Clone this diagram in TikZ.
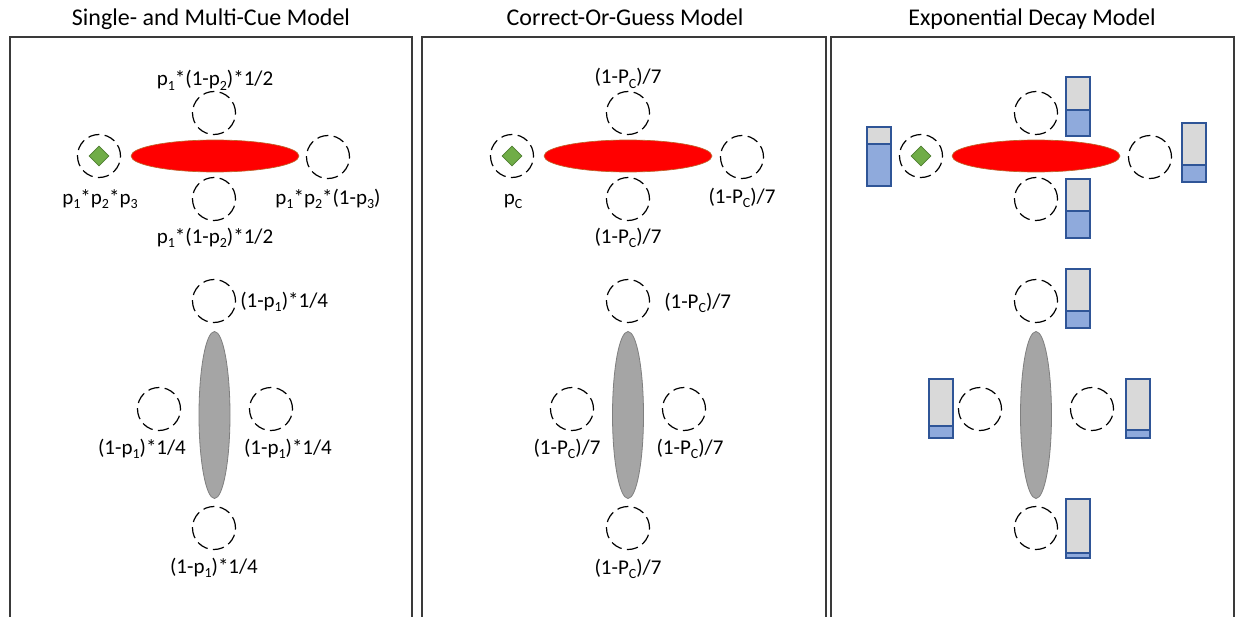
\documentclass[tikz,border=0pt]{standalone}
\usepackage{fontspec}
\setmainfont{Carlito}
\usetikzlibrary{shapes.geometric}
\definecolor{frame}{HTML}{3A3A3A}
\definecolor{ellgrey}{HTML}{A5A5A5}
\definecolor{ellgreyd}{HTML}{7F7F7F}
\definecolor{gemgreen}{HTML}{70AD47}
\definecolor{gemgreend}{HTML}{507E32}
\definecolor{redrim}{HTML}{C0622A}
\definecolor{bargrey}{HTML}{D9D9D9}
\definecolor{barblue}{HTML}{8FAADC}
\definecolor{barline}{HTML}{2F5597}
\newcommand{\sbs}[1]{\raisebox{-0.2em}{\fontsize{10.5}{12}\selectfont #1}}
\newcommand{\levelbar}[3]{%
  \fill[bargrey] (#1,#2) rectangle (#1+24,#3);
  \fill[barblue] (#1,#3) rectangle (#1+24,#2+59);
  \draw[barline, line width=1pt] (#1,#3) -- (#1+24,#3);
  \draw[barline, line width=1pt] (#1,#2) rectangle (#1+24,#2+59);}
\begin{document}
\begin{tikzpicture}[x=0.75pt,y=-0.75pt,
  dcirc/.style={circle, draw=black, line width=0.9pt, dash pattern=on 8.5pt off 4pt, minimum size=32.25pt, inner sep=0pt},
  redell/.style={ellipse, fill=red, draw=redrim, line width=0.5pt, minimum width=126pt, minimum height=24pt, inner sep=0pt},
  greyell/.style={ellipse, fill=ellgrey, draw=ellgreyd, line width=0.6pt, minimum width=23.25pt, minimum height=125.25pt, inner sep=0pt},
  gem/.style={diamond, fill=gemgreen, draw=gemgreend, line width=0.6pt, minimum width=15pt, minimum height=15pt, inner sep=0pt},
  lbl/.style={font=\fontsize{15.75}{18}\selectfont, inner sep=0pt, anchor=base},
  ttl/.style={font=\fontsize{18}{21}\selectfont, inner sep=0pt, anchor=base},
  panel/.style={draw=frame, line width=1.1pt}]
\useasboundingbox[fill=white] (0,0) rectangle (1236,617);

% titles
\node[ttl] (t1) at (211,26) {Single- and Multi-Cue Model};
\node[ttl] (t2) at (625,26) {Correct-Or-Guess Model};
\node[ttl] (t3) at (1032,26) {Exponential Decay Model};

% frames
\draw[panel] (10,617) -- (10,37) -- (412,37) -- (412,617);
\draw[panel] (422,617) -- (422,37) -- (826,37) -- (826,617);
\draw[panel] (831,617) -- (831,37) -- (1234,37) -- (1234,617);

% ---------- Panel 1 ----------
\node[redell] (a-red) at (215,156) {};
\node[dcirc] (a-t) at (214,113) {};
\node[dcirc] (a-l) at (99,156) {};
\node[gem] (a-g) at (99,156) {};
\node[dcirc] (a-r) at (328,157) {};
\node[dcirc] (a-b) at (214,199) {};
\node[lbl] (a-tl) at (215,86) {p\sbs{1}*(1-p\sbs{2})*1/2};
\node[lbl] (a-ll) at (100,204) {p\sbs{1}*p\sbs{2}*p\sbs{3}};
\node[lbl] (a-rl) at (328,204) {p\sbs{1}*p\sbs{2}*(1-p\sbs{3})};
\node[lbl] (a-bl) at (215,243) {p\sbs{1}*(1-p\sbs{2})*1/2};

\node[greyell] (a-grey) at (214.5,415) {};
\node[dcirc] (a-t2) at (214,301) {};
\node[dcirc] (a-l2) at (159,409) {};
\node[dcirc] (a-r2) at (271,409) {};
\node[dcirc] (a-b2) at (214,528) {};
\node[lbl, anchor=base west] (a-t2l) at (240,307) {(1-p\sbs{1})*1/4};
\node[lbl] (a-l2l) at (142,454) {(1-p\sbs{1})*1/4};
\node[lbl] (a-r2l) at (288,454) {(1-p\sbs{1})*1/4};
\node[lbl] (a-b2l) at (214,573) {(1-p\sbs{1})*1/4};

% ---------- Panel 2 ----------
\node[redell] (b-red) at (628,156) {};
\node[dcirc] (b-t) at (628,113) {};
\node[dcirc] (b-l) at (512,156) {};
\node[gem] (b-g) at (512,156) {};
\node[dcirc] (b-r) at (742,157) {};
\node[dcirc] (b-b) at (628,199) {};
\node[lbl] (b-tl) at (628,84) {(1-P\sbs{C})/7};
\node[lbl] (b-ll) at (513,204) {p\sbs{C}};
\node[lbl] (b-rl) at (742,203) {(1-P\sbs{C})/7};
\node[lbl] (b-bl) at (628,243) {(1-P\sbs{C})/7};

\node[greyell] (b-grey) at (628,415) {};
\node[dcirc] (b-t2) at (628,301) {};
\node[dcirc] (b-l2) at (572,409) {};
\node[dcirc] (b-r2) at (684,409) {};
\node[dcirc] (b-b2) at (628,528) {};
\node[lbl, anchor=base west] (b-t2l) at (664,308) {(1-P\sbs{C})/7};
\node[lbl] (b-l2l) at (567,454) {(1-P\sbs{C})/7};
\node[lbl] (b-r2l) at (690,454) {(1-P\sbs{C})/7};
\node[lbl] (b-b2l) at (628,574) {(1-P\sbs{C})/7};

% ---------- Panel 3 ----------
\node[redell] (c-red) at (1036,156) {};
\node[dcirc] (c-t) at (1036,113) {};
\node[dcirc] (c-l) at (921,156) {};
\node[gem] (c-g) at (921,156) {};
\node[dcirc] (c-r) at (1150,157) {};
\node[dcirc] (c-b) at (1036,199) {};
\levelbar{1066}{77}{110}
\levelbar{867}{127}{144}
\levelbar{1182}{123}{165}
\levelbar{1066}{179}{211}

\node[greyell] (c-grey) at (1036,415) {};
\node[dcirc] (c-t2) at (1036,301) {};
\node[dcirc] (c-l2) at (980,409) {};
\node[dcirc] (c-r2) at (1092,409) {};
\node[dcirc] (c-b2) at (1036,528) {};
\levelbar{1066}{269}{311}
\levelbar{929}{379}{426}
\levelbar{1126}{379}{430}
\levelbar{1066}{499}{553}
\end{tikzpicture}
\end{document}
